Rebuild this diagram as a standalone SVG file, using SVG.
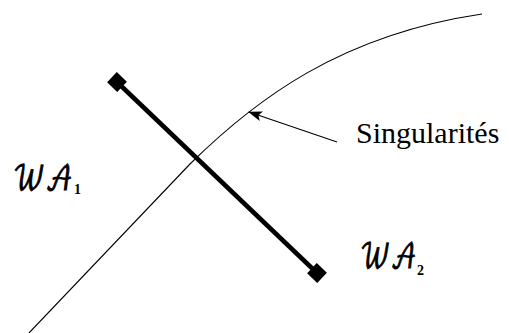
<svg xmlns="http://www.w3.org/2000/svg" width="509" height="333" viewBox="0 0 509 333">
<style>
.thin{fill:none;stroke:#000;stroke-width:1.1}
.bar{fill:none;stroke:#000;stroke-width:4.5}
.end{fill:#000}
.scr{font-family:"DejaVu Math TeX Gyre","DejaVu Serif",serif;font-size:34px;fill:#000;stroke:#000;stroke-width:0.9}
.sub{font-family:"Liberation Serif","Times New Roman",serif;font-size:14px;font-weight:bold;fill:#000}
.lbl{font-family:"Liberation Serif","Times New Roman",serif;font-size:30px;fill:#000}
</style>
<defs>
<marker id="ah" markerWidth="14" markerHeight="10" refX="13" refY="5" orient="auto" markerUnits="userSpaceOnUse">
<path d="M0,0 L14,5 L0,10 L3,5 Z" fill="#000"/>
</marker>
</defs>
<g id="curve">
<path class="thin" d="M29,333 L190,164 C255,100 340,35 482,14"/>
</g>
<g id="segment">
<line class="bar" x1="117" y1="82" x2="317" y2="273"/>
<rect class="end" x="-7" y="-7" width="14" height="14" transform="translate(117,82) rotate(43.7)"/>
<rect class="end" x="-7" y="-7" width="14" height="14" transform="translate(317,273) rotate(43.7)"/>
</g>
<g id="connectors">
<line class="thin" x1="337" y1="142" x2="249" y2="112" marker-end="url(#ah)"/>
</g>
<g id="singularites">
<text class="lbl" x="356" y="143">Singularités</text>
</g>
<g id="wa1">
<text class="scr" transform="translate(13,190) scale(0.76,1)">𝒲𝒜</text>
<text class="sub" x="74" y="194">1</text>
</g>
<g id="wa2">
<text class="scr" transform="translate(360,268) scale(0.72,1)">𝒲𝒜</text>
<text class="sub" x="417" y="275">2</text>
</g>
</svg>
